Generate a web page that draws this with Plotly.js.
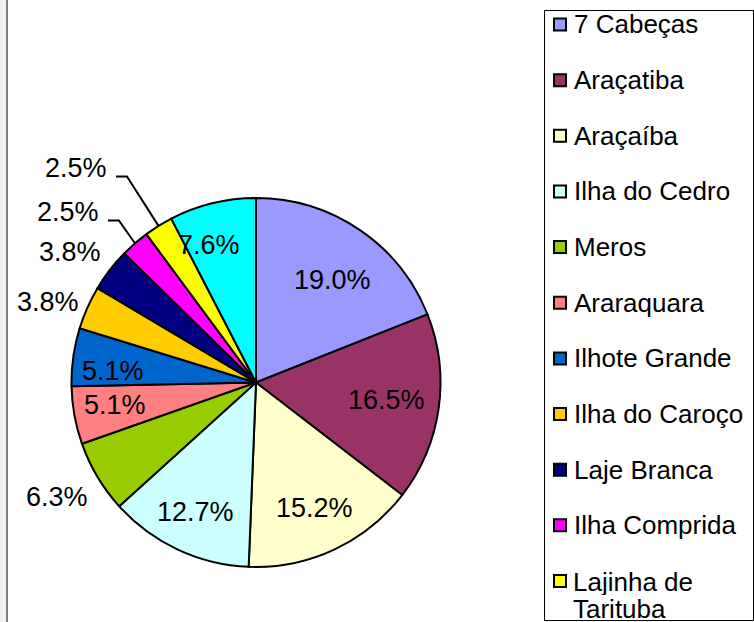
<!DOCTYPE html>
<html><head><meta charset="utf-8">
<script src="https://cdn.plot.ly/plotly-3.0.1.min.js"></script>
<style>html,body{margin:0;padding:0;background:#fff}#chart{width:754px;height:622px}</style>
</head><body><div id="chart"></div>
<script>
// ---- data ----
const categories = ['7 Cabeças','Araçatiba','Araçaíba','Ilha do Cedro','Meros','Araraquara','Ilhote Grande','Ilha do Caroço','Laje Branca','Ilha Comprida','Lajinha de Tarituba','Outros'];
const counts = [15,13,12,10,5,4,4,3,3,2,2,6];
const colors = ['#9999FF','#993366','#FFFFCC','#CCFFFF','#99CC00','#FF8080','#0066CC','#FFCC00','#000080','#FF00FF','#FFFF00','#00FFFF'];

// ---- layout helpers ----
const W = 754, H = 622;
const px = x => x / W, py = y => 1 - y / H;
const CX = 256, CY = 382.5, R = 184.5;
const FONT = 'Liberation Sans, Arial, sans-serif';
// label placement relative to each slice's mid angle
const labelRadius = [0.695,0.716,0.752,0.776,1.244,0.774,0.778,1.209,1.231,1.376,1.518,0.788];
const labelShift  = [2.7,-0.4,0,0,0.9,1.2,-3.4,-2.7,-2.5,-6.8,-8.1,-5.2];
const hasLeader   = [false,false,false,false,false,false,false,false,false,true,true,false];

const total = counts.reduce((a,b)=>a+b,0);
let cum = 0;
const annotations = [];
const shapes = [];

counts.forEach((c,i)=>{
  const mid = (cum + c/2) / total * 360;
  cum += c;
  const th = (mid + labelShift[i]) * Math.PI/180;
  const lx = CX + labelRadius[i]*R*Math.sin(th);
  const ly = CY - labelRadius[i]*R*Math.cos(th);
  annotations.push({x:px(lx), y:py(ly), xref:'paper', yref:'paper', xanchor:'center', yanchor:'middle',
    text:(c/total*100).toFixed(1)+'%', showarrow:false, font:{family:FONT,size:27,color:'#000'}});
  if (hasLeader[i]) {
    const m = mid*Math.PI/180;
    const ex = CX + R*Math.sin(m), ey = CY - R*Math.cos(m);
    const sx = lx + 40, kx = lx + 51, sy = ly + 8.5;
    shapes.push({type:'path', xref:'paper', yref:'paper',
      path:`M ${px(sx)},${py(sy)} L ${px(kx)},${py(sy)} L ${px(ex)},${py(ey)}`,
      line:{color:'#000', width:2}});
  }
});

// left frame strip
shapes.push({type:'rect', xref:'paper', yref:'paper', x0:px(0), x1:px(6), y0:0, y1:1, fillcolor:'#f2f2f2', line:{width:0}, layer:'below'});
shapes.push({type:'rect', xref:'paper', yref:'paper', x0:px(6), x1:px(8), y0:0, y1:1, fillcolor:'#808080', line:{width:0}, layer:'below'});

// custom legend
shapes.push({type:'rect', xref:'paper', yref:'paper', x0:px(544.5), x1:px(753.5), y0:py(620.5), y1:py(10.5),
  fillcolor:'rgba(0,0,0,0)', line:{color:'#000', width:1}});
const legTop = 24.5, legStep = 55.65, lineStep = 27;
categories.forEach((name,i)=>{
  const cy = legTop + i*legStep;
  shapes.push({type:'rect', xref:'paper', yref:'paper', x0:px(554), x1:px(566), y0:py(cy+6), y1:py(cy-6),
    fillcolor:colors[i], line:{color:'#000', width:2}});
  // wrap long names
  let lines = [name];
  if (name.length > 15) { const k = name.lastIndexOf(' '); lines = [name.slice(0,k), name.slice(k+1)]; }
  lines.forEach((t,j)=>{
    const a = {x:px(572), y:py(cy + j*lineStep), xref:'paper', yref:'paper', xanchor:'left', yanchor:'middle',
      text:t, showarrow:false, font:{family:FONT,size:26,color:'#000'}};
    if (lines.length > 1) { a.height = 27; a.borderpad = 0; }
    annotations.push(a);
  });
});

const data = [{
  type:'pie', labels:categories, values:counts, sort:false, direction:'clockwise', rotation:0,
  marker:{colors:colors, line:{color:'#000', width:2}},
  textinfo:'none', hoverinfo:'none', showlegend:false,
  domain:{x:[px(CX-R), px(CX+R)], y:[py(CY+R), py(CY-R)]}
}];

const layout = {
  width:W, height:H, margin:{l:0,r:0,t:0,b:0},
  paper_bgcolor:'#fff', plot_bgcolor:'#fff', showlegend:false,
  annotations:annotations, shapes:shapes
};
Plotly.newPlot('chart', data, layout, {displayModeBar:false, staticPlot:true});
</script>
</body></html>
